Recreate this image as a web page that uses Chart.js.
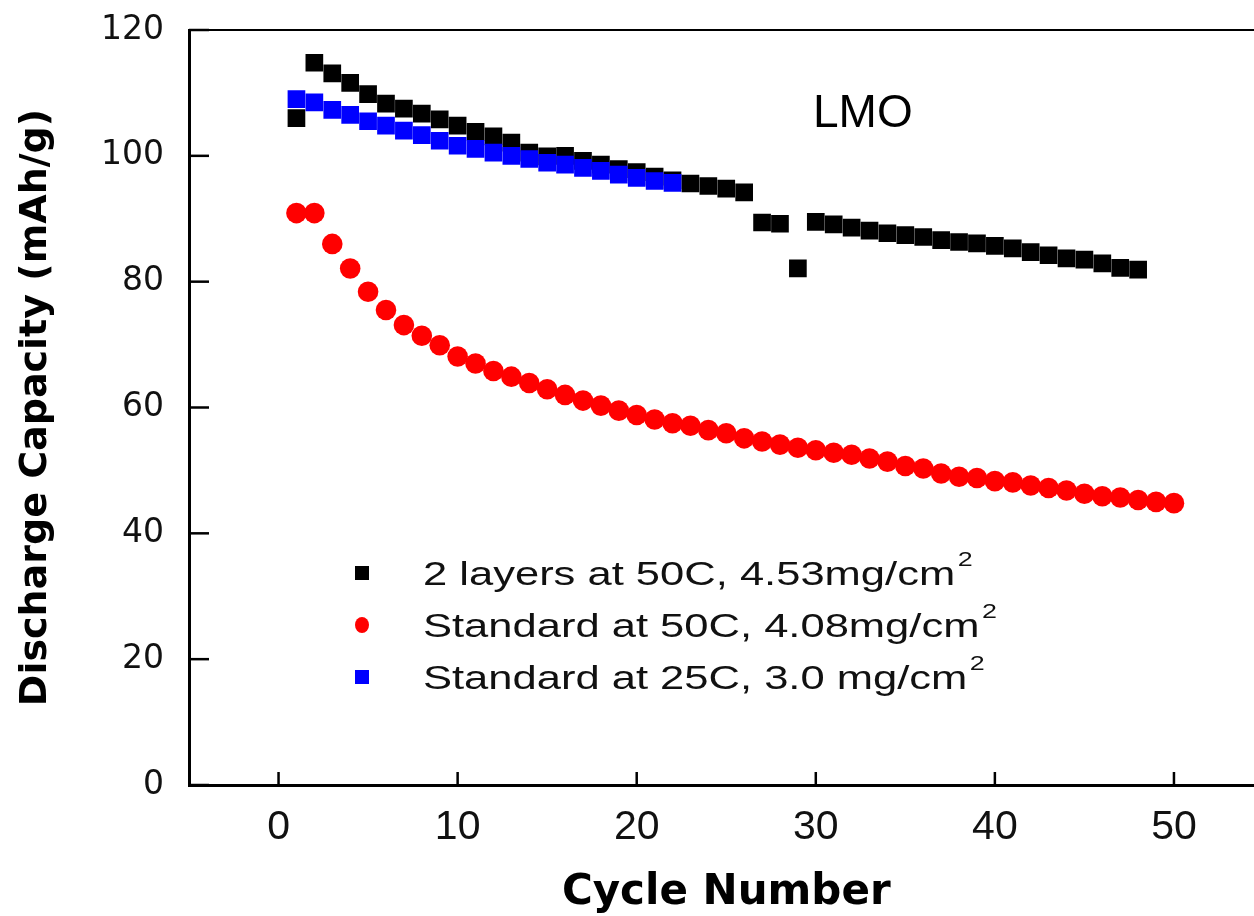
<!DOCTYPE html>
<html>
<head>
<meta charset="utf-8">
<script src="https://cdn.jsdelivr.net/npm/chart.js@4.4.0/dist/chart.umd.min.js"></script>
<style>
  html, body { margin: 0; padding: 0; background: #fff; overflow: hidden; }
  #wrap { width: 1254px; height: 916px; overflow: hidden; position: relative; }
  #wrap canvas { position: absolute; left: 0; top: 0; }
</style>
</head>
<body>
<div id="wrap"><canvas id="chart_id_lmo" width="1276" height="916"></canvas></div>
<script>
// cycle numbers (x)
const cycles = [1, 2, 3, 4, 5, 6, 7, 8, 9, 10, 11, 12, 13, 14, 15, 16, 17, 18, 19, 20,
  21, 22, 23, 24, 25, 26, 27, 28, 29, 30, 31, 32, 33, 34, 35, 36, 37, 38, 39, 40,
  41, 42, 43, 44, 45, 46, 47, 48, 49, 50];

// discharge capacity (mAh/g)
const twoLayers50C = [106.0, 114.8, 113.1, 111.6, 109.8, 108.3, 107.5, 106.7, 105.8, 104.8,
  103.8, 103.1, 102.1, 100.5, 99.9, 100.0, 99.2, 98.6, 97.9, 97.4,
  96.7, 96.1, 95.6, 95.2, 94.8, 94.2, 89.4, 89.2, 82.1, 89.5,
  89.1, 88.6, 88.1, 87.7, 87.4, 87.1, 86.6, 86.3, 86.1, 85.7,
  85.3, 84.7, 84.2, 83.7, 83.5, 82.9, 82.2, 81.9];
const standard50C = [90.9, 90.9, 86.0, 82.1, 78.4, 75.5, 73.1, 71.4, 69.9, 68.1,
  67.0, 65.8, 64.9, 63.9, 62.9, 62.0, 61.1, 60.3, 59.5, 58.8,
  58.1, 57.5, 57.1, 56.4, 55.9, 55.1, 54.6, 54.1, 53.6, 53.2,
  52.8, 52.5, 51.9, 51.4, 50.7, 50.3, 49.5, 49.0, 48.8, 48.3,
  48.1, 47.6, 47.2, 46.8, 46.3, 45.9, 45.7, 45.3, 45.0, 44.8];
const standard25C = [109.0, 108.5, 107.3, 106.5, 105.5, 104.8, 104.0, 103.3, 102.4, 101.6,
  101.1, 100.5, 100.0, 99.5, 98.9, 98.6, 98.1, 97.6, 97.0, 96.5,
  96.0, 95.7];

const seriesLabels = [
  "2 layers at 50C, 4.53mg/cm²",
  "Standard at 50C, 4.08mg/cm²",
  "Standard at 25C, 3.0 mg/cm²"
];
const xTickValues = [0, 10, 20, 30, 40, 50];
const yTickValues = [0, 20, 40, 60, 80, 100, 120];
const annotationText = "LMO";

function toPoints(values) {
  return values.map((v, i) => ({ x: cycles[i], y: v }));
}

// inward tick marks + top frame line
const frameTicks = {
  id: "frameTicks",
  afterDatasetsDraw(chart) {
    const { ctx, chartArea, scales } = chart;
    ctx.save();
    ctx.strokeStyle = "#000";
    ctx.lineWidth = 2;
    ctx.beginPath();
    ctx.moveTo(chartArea.left, chartArea.top);
    ctx.lineTo(chartArea.right, chartArea.top);
    ctx.stroke();
    ctx.lineWidth = 2.5;
    for (const v of xTickValues) {
      const px = scales.x.getPixelForValue(v);
      ctx.beginPath();
      ctx.moveTo(px, chartArea.bottom);
      ctx.lineTo(px, chartArea.bottom - 13);
      ctx.stroke();
    }
    for (const v of yTickValues) {
      const py = scales.y.getPixelForValue(v);
      ctx.beginPath();
      ctx.moveTo(chartArea.left, py);
      ctx.lineTo(chartArea.left + 20, py);
      ctx.stroke();
    }
    ctx.restore();
  }
};

// legend inside the plot, with superscript unit
const insideLegend = {
  id: "insideLegend",
  afterDraw(chart) {
    const ctx = chart.ctx;
    const rowY = [573, 625, 677];
    ctx.save();
    chart.data.datasets.forEach((ds, i) => {
      const y = rowY[i];
      ctx.fillStyle = ds.backgroundColor;
      if (ds.pointStyle === "circle") {
        ctx.beginPath();
        ctx.ellipse(362, y, 7, 8, 0, 0, Math.PI * 2);
        ctx.fill();
      } else {
        ctx.fillRect(355, y - 7, 14, 14);
      }
      let label = ds.label;
      let sup = "";
      if (label.endsWith("²")) {
        sup = "2";
        label = label.slice(0, -1);
      }
      ctx.save();
      ctx.translate(423, y + 12);
      ctx.scale(1.28, 1);
      ctx.fillStyle = "#111";
      ctx.font = "34px 'Liberation Sans', Arial, sans-serif";
      ctx.textBaseline = "alphabetic";
      ctx.textAlign = "left";
      ctx.fillText(label, 0, 0);
      const w = ctx.measureText(label).width;
      if (sup) {
        ctx.font = "21px 'Liberation Sans', Arial, sans-serif";
        ctx.fillText(sup, w + 2, -19);
      }
      ctx.restore();
    });
    ctx.fillStyle = "#000";
    ctx.font = "46px 'Liberation Sans', Arial, sans-serif";
    ctx.textBaseline = "alphabetic";
    ctx.fillText(annotationText, 813, 127);
    ctx.restore();
  }
};

const config = {
  type: "scatter",
  data: {
    datasets: [
      {
        label: seriesLabels[0],
        data: toPoints(twoLayers50C),
        pointStyle: "rect",
        pointRadius: 12.5,
        pointHoverRadius: 12.5,
        borderWidth: 0,
        backgroundColor: "#000000",
        borderColor: "#000000",
        order: 2
      },
      {
        label: seriesLabels[1],
        data: toPoints(standard50C),
        pointStyle: "circle",
        pointRadius: 10.3,
        pointHoverRadius: 10.3,
        borderWidth: 0,
        backgroundColor: "#ff0000",
        borderColor: "#ff0000",
        order: 1
      },
      {
        label: seriesLabels[2],
        data: toPoints(standard25C),
        pointStyle: "rect",
        pointRadius: 12.5,
        pointHoverRadius: 12.5,
        borderWidth: 0,
        backgroundColor: "#0000ff",
        borderColor: "#0000ff",
        order: 0
      }
    ]
  },
  options: {
    responsive: false,
    animation: false,
    layout: { padding: { left: 0, right: 0, top: 30, bottom: 0 } },
    plugins: {
      legend: { display: false },
      tooltip: { enabled: false }
    },
    scales: {
      x: {
        type: "linear",
        min: -5,
        max: 55,
        afterBuildTicks: (scale) => { scale.ticks = xTickValues.map(v => ({ value: v })); },
        afterFit: (scale) => {
          scale.height = 131;
          scale.paddingLeft = 0;
          scale.paddingRight = 0;
        },
        grid: { display: false, drawTicks: false },
        border: { display: true, width: 3, color: "#000" },
        ticks: {
          color: "#111",
          padding: 18,
          maxRotation: 0,
          font: { family: "'Liberation Sans', Arial, sans-serif", size: 41 }
        },
        title: {
          display: true,
          text: "Cycle Number",
          color: "#000",
          padding: { top: 0, bottom: 2 },
          font: { family: "'DejaVu Sans', sans-serif", size: 42, weight: "bold", lineHeight: 1 }
        }
      },
      y: {
        type: "linear",
        min: 0,
        max: 120,
        afterBuildTicks: (scale) => { scale.ticks = yTickValues.map(v => ({ value: v })); },
        afterFit: (scale) => {
          scale.width = 189;
          scale.paddingTop = 0;
          scale.paddingBottom = 0;
        },
        grid: { display: false, drawTicks: false },
        border: { display: true, width: 3, color: "#000" },
        ticks: {
          color: "#111",
          padding: 25,
          font: { family: "'DejaVu Sans', sans-serif", size: 33 }
        },
        title: {
          display: true,
          text: "Discharge Capacity (mAh/g)",
          color: "#000",
          padding: { top: 17, bottom: 0 },
          font: { family: "'DejaVu Sans', sans-serif", size: 38, weight: "bold", lineHeight: 1 }
        }
      }
    }
  },
  plugins: [frameTicks, insideLegend]
};

const myChart = new Chart(document.getElementById("chart_id_lmo"), config);
</script>
</body>
</html>
